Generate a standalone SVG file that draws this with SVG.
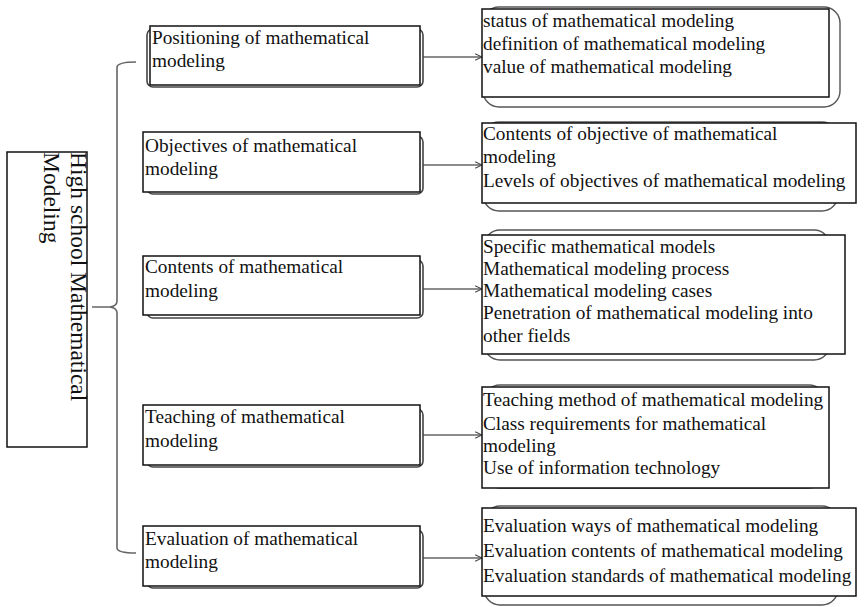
<svg xmlns="http://www.w3.org/2000/svg" width="866" height="607" viewBox="0 0 866 607">
<defs>
<style>
.t{font-family:"Liberation Serif","Times New Roman",serif;font-size:19.3px;fill:#111}
.v{font-family:"Liberation Serif","Times New Roman",serif;font-size:23.5px;fill:#111}
.box{fill:#fff;stroke:#111;stroke-width:1.5}
.sh{fill:#fff;stroke:#444;stroke-width:1.6}
.sh2{fill:none;stroke:#555;stroke-width:1.4}
.con{fill:none;stroke:#666;stroke-width:1.6}
</style>
<marker id="arr" viewBox="0 0 10 10" refX="9.5" refY="5" markerWidth="8" markerHeight="8" markerUnits="userSpaceOnUse" orient="auto">
<path d="M1,1 L9.5,5 L1,9" fill="none" stroke="#444" stroke-width="1.3"/>
</marker>
</defs>
<rect width="866" height="607" fill="#fff"/>

<g id="connectors">
<path class="con" d="M136,62 Q118,62 117,67 L117,301 Q117,306 110,307 L92,307 M110,307 Q117,308 117,313 L117,548 Q117,553 136,553"/>
<line class="con" x1="423" y1="57" x2="482" y2="57" marker-end="url(#arr)"/>
<line class="con" x1="423" y1="165" x2="482" y2="165" marker-end="url(#arr)"/>
<line class="con" x1="423" y1="289" x2="482" y2="289" marker-end="url(#arr)"/>
<line class="con" x1="423" y1="435" x2="482" y2="435" marker-end="url(#arr)"/>
<line class="con" x1="423" y1="558" x2="482" y2="558" marker-end="url(#arr)"/>
</g>

<g id="root">
<rect class="box" x="7" y="152" width="80" height="295"/>
<text class="v" transform="translate(71,152) rotate(90)">High school Mathematical</text>
<text class="v" transform="translate(44,152) rotate(90)">Modeling</text>
</g>

<g id="n-positioning">
<rect class="sh" x="147" y="29" width="276" height="58" rx="6"/>
<rect class="box" x="150" y="26" width="270" height="59"/>
<text class="t" x="152" y="44">Positioning of mathematical</text>
<text class="t" x="152" y="67">modeling</text>
</g>
<g id="n-objectives">
<rect class="sh" x="147" y="136" width="276" height="58" rx="6"/>
<rect class="box" x="143" y="132" width="277" height="60"/>
<text class="t" x="145" y="152">Objectives of mathematical</text>
<text class="t" x="145" y="175">modeling</text>
</g>
<g id="n-contents">
<rect class="sh" x="147" y="260" width="276" height="58" rx="6"/>
<rect class="box" x="143" y="256" width="277" height="59"/>
<text class="t" x="145" y="273">Contents of mathematical</text>
<text class="t" x="145" y="297">modeling</text>
</g>
<g id="n-teaching">
<rect class="sh" x="147" y="409" width="276" height="58" rx="6"/>
<rect class="box" x="143" y="405" width="277" height="60"/>
<text class="t" x="145" y="423">Teaching of mathematical</text>
<text class="t" x="145" y="447">modeling</text>
</g>
<g id="n-evaluation">
<rect class="sh" x="147" y="530" width="276" height="58" rx="6"/>
<rect class="box" x="143" y="526" width="277" height="60"/>
<text class="t" x="145" y="545">Evaluation of mathematical</text>
<text class="t" x="145" y="568">modeling</text>
</g>

<g id="d-positioning">
<rect class="sh2" x="483" y="7" width="357" height="100" rx="16"/>
<rect class="box" x="482" y="9" width="347" height="88"/>
<text class="t" x="483" y="27">status of mathematical modeling</text>
<text class="t" x="483" y="50">definition of mathematical modeling</text>
<text class="t" x="483" y="73">value of mathematical modeling</text>
</g>
<g id="d-objectives">
<rect class="sh2" x="483" y="122" width="355" height="89" rx="16"/>
<rect class="box" x="482" y="123" width="374" height="80"/>
<text class="t" x="483" y="140">Contents of objective of mathematical</text>
<text class="t" x="483" y="163">modeling</text>
<text class="t" x="483" y="187">Levels of objectives of mathematical modeling</text>
</g>
<g id="d-contents">
<rect class="sh2" x="484" y="230" width="346" height="130" rx="16"/>
<rect class="box" x="482" y="235" width="363" height="119"/>
<text class="t" x="483" y="253">Specific mathematical models</text>
<text class="t" x="483" y="275">Mathematical modeling process</text>
<text class="t" x="483" y="297">Mathematical modeling cases</text>
<text class="t" x="483" y="319">Penetration of mathematical modeling into</text>
<text class="t" x="483" y="342">other fields</text>
</g>
<g id="d-teaching">
<rect class="sh2" x="484" y="385" width="341" height="103" rx="16"/>
<rect class="box" x="482" y="387" width="347" height="101"/>
<text class="t" x="483" y="406">Teaching method of mathematical modeling</text>
<text class="t" x="483" y="430">Class requirements for mathematical</text>
<text class="t" x="483" y="452">modeling</text>
<text class="t" x="483" y="474">Use of information technology</text>
</g>
<g id="d-evaluation">
<rect class="sh2" x="484" y="506" width="354" height="99" rx="16"/>
<rect class="box" x="482" y="508" width="374" height="88"/>
<text class="t" x="483" y="532">Evaluation ways of mathematical modeling</text>
<text class="t" x="483" y="557">Evaluation contents of mathematical modeling</text>
<text class="t" x="483" y="582">Evaluation standards of mathematical modeling</text>
</g>
</svg>
